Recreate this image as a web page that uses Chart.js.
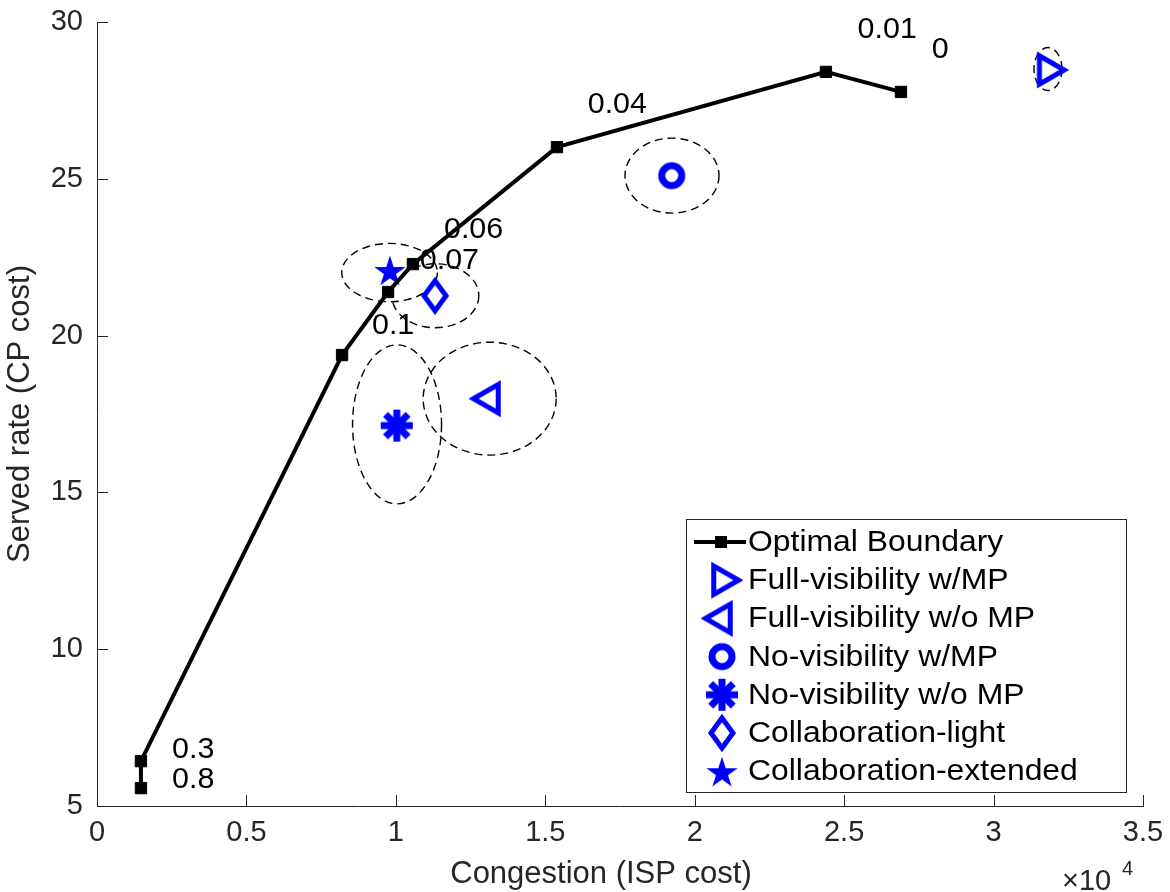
<!DOCTYPE html>
<html>
<head>
<meta charset="utf-8">
<script src="https://cdn.jsdelivr.net/npm/chart.js@4/dist/chart.umd.min.js"></script>
<style>
  html, body { margin: 0; padding: 0; background: #fff; }
  canvas { display: block; }
</style>
</head>
<body>
<canvas id="myChart" width="1170" height="892"></canvas>
<script>
// optimal boundary (congestion is raw ISP cost, axis shows x1e4)
const boundaryX = [1470, 1470, 8200, 9740, 10570, 15390, 24390, 26900];
const boundaryY = [5.57, 6.43, 19.38, 21.39, 22.28, 26.01, 28.41, 27.77];

// text annotations next to the boundary
const noteText = ['0.8', '0.3', '0.1', '0.07', '0.06', '0.04', '0.01', '0'];
const noteX = [2510, 2510, 9200, 10800, 11610, 16420, 25450, 27930];
const noteY = [5.83, 6.79, 20.31, 22.38, 23.37, 27.35, 29.74, 29.11];

// schemes
const schemeNames = ['Full-visibility w/MP', 'Full-visibility w/o MP', 'No-visibility w/MP',
                     'No-visibility w/o MP', 'Collaboration-light', 'Collaboration-extended'];
const schemeX = [31810, 13150, 19230, 10030, 11310, 9800];
const schemeY = [28.47, 17.99, 25.10, 17.13, 21.27, 22.09];

// spread ellipses around each scheme (centre + half widths)
const ellX = [31820, 13140, 19240, 10040, 11320, 9790];
const ellY = [28.50, 17.99, 25.10, 17.17, 21.27, 22.01];
const ellRX = [468, 2225, 1573, 1489, 1456, 1600];
const ellRY = [0.686, 1.80, 1.196, 2.535, 1.02, 0.93];

const BLUE = '#0000ff';
const AXIS = '#262626';
const FONT = "'Liberation Sans', Arial, Helvetica, sans-serif";

function makeMarker(draw) {
  const c = document.createElement('canvas');
  c.width = 44; c.height = 44;
  const g = c.getContext('2d');
  g.strokeStyle = BLUE; g.fillStyle = BLUE;
  g.lineJoin = 'miter';
  draw(g, 22, 22);
  return c;
}

const markers = [
  makeMarker(function(g, x, y) {      // right triangle
    const r = 16.5;
    g.lineWidth = 5;
    g.beginPath();
    g.moveTo(x + r, y);
    g.lineTo(x - r / 2, y - r * 0.866);
    g.lineTo(x - r / 2, y + r * 0.866);
    g.closePath(); g.stroke();
  }),
  makeMarker(function(g, x, y) {      // left triangle
    const r = 16.5;
    g.lineWidth = 5;
    g.beginPath();
    g.moveTo(x - r, y);
    g.lineTo(x + r / 2, y - r * 0.866);
    g.lineTo(x + r / 2, y + r * 0.866);
    g.closePath(); g.stroke();
  }),
  makeMarker(function(g, x, y) {      // circle
    g.lineWidth = 7;
    g.beginPath(); g.arc(x, y, 10, 0, Math.PI * 2); g.stroke();
  }),
  makeMarker(function(g, x, y) {      // asterisk
    g.lineWidth = 7; g.lineCap = 'butt';
    for (let k = 0; k < 4; k++) {
      const a = k * Math.PI / 4;
      g.beginPath();
      g.moveTo(x - 16 * Math.cos(a), y - 16 * Math.sin(a));
      g.lineTo(x + 16 * Math.cos(a), y + 16 * Math.sin(a));
      g.stroke();
    }
  }),
  makeMarker(function(g, x, y) {      // diamond
    g.lineWidth = 5;
    g.beginPath();
    g.moveTo(x, y - 15); g.lineTo(x + 11, y); g.lineTo(x, y + 15); g.lineTo(x - 11, y);
    g.closePath(); g.stroke();
  }),
  makeMarker(function(g, x, y) {      // pentagram
    const R = 16.5, r = R * 0.382;
    g.beginPath();
    for (let k = 0; k < 10; k++) {
      const rad = (k % 2 ? r : R);
      const a = -Math.PI / 2 + k * Math.PI / 5;
      const px = x + rad * Math.cos(a), py = y + 2 + rad * Math.sin(a);
      if (k === 0) g.moveTo(px, py); else g.lineTo(px, py);
    }
    g.closePath(); g.fill();
  })
];

const datasets = [{
  label: 'Optimal Boundary',
  data: boundaryX.map((x, i) => ({ x: x, y: boundaryY[i] })),
  showLine: true,
  borderColor: '#000',
  borderWidth: 4,
  backgroundColor: '#000',
  pointStyle: 'rect',
  pointRadius: 8,
  pointBorderWidth: 1,
  tension: 0
}];
schemeNames.forEach(function(name, i) {
  datasets.push({
    label: name,
    data: [{ x: schemeX[i], y: schemeY[i] }],
    pointStyle: markers[i],
    pointRadius: 16,
    showLine: false
  });
});

const ellipsePlugin = {
  id: 'ellipses',
  beforeDatasetsDraw(chart) {
    const ctx = chart.ctx, xs = chart.scales.x, ys = chart.scales.y;
    ctx.save();
    ctx.strokeStyle = '#000';
    ctx.lineWidth = 1.4;
    ctx.setLineDash([8, 5]);
    for (let i = 0; i < ellX.length; i++) {
      const cx = xs.getPixelForValue(ellX[i]);
      const cy = ys.getPixelForValue(ellY[i]);
      const rx = Math.abs(xs.getPixelForValue(ellX[i] + ellRX[i]) - cx);
      const ry = Math.abs(ys.getPixelForValue(ellY[i] + ellRY[i]) - cy);
      ctx.beginPath();
      ctx.ellipse(cx, cy, rx, ry, 0, 0, Math.PI * 2);
      ctx.stroke();
    }
    ctx.restore();
  }
};

function stretchText(ctx, text, x, y, sx) {
  ctx.save();
  ctx.translate(x, y);
  ctx.scale(sx, 1);
  ctx.fillText(text, 0, 0);
  ctx.restore();
}

const decorPlugin = {
  id: 'decor',
  afterDraw(chart) {
    const ctx = chart.ctx, xs = chart.scales.x, ys = chart.scales.y;
    const area = chart.chartArea;
    ctx.save();

    // inward ticks
    ctx.strokeStyle = AXIS; ctx.lineWidth = 1;
    xs.ticks.forEach(function(t) {
      const px = Math.round(xs.getPixelForValue(t.value)) + 0.5;
      ctx.beginPath(); ctx.moveTo(px, area.bottom); ctx.lineTo(px, area.bottom - 11); ctx.stroke();
    });
    ys.ticks.forEach(function(t) {
      const py = Math.round(ys.getPixelForValue(t.value)) + 0.5;
      ctx.beginPath(); ctx.moveTo(area.left, py); ctx.lineTo(area.left + 11, py); ctx.stroke();
    });

    // boundary annotations
    ctx.fillStyle = '#000';
    ctx.font = '29px ' + FONT;
    ctx.textAlign = 'left'; ctx.textBaseline = 'middle';
    for (let i = 0; i < noteText.length; i++) {
      stretchText(ctx, noteText[i], xs.getPixelForValue(noteX[i]), ys.getPixelForValue(noteY[i]), 1.05);
    }

    // x axis title (sits a little left of centre in the original)
    ctx.fillStyle = AXIS;
    ctx.textAlign = 'center'; ctx.textBaseline = 'alphabetic';
    ctx.font = '31px ' + FONT;
    ctx.fillText('Congestion (ISP cost)', 601, 883);

    // x10^4 multiplier
    ctx.textAlign = 'left';
    ctx.font = '29px ' + FONT;
    ctx.fillText('\u00d710', 1062, 890);
    ctx.font = '20px ' + FONT;
    ctx.fillText('4', 1122, 875);

    // legend
    const lx = area.right - 457, ly = area.bottom - 287, lw = 440, lh = 273;
    ctx.fillStyle = '#fff';
    ctx.fillRect(lx, ly, lw, lh);
    ctx.strokeStyle = AXIS; ctx.lineWidth = 1;
    ctx.strokeRect(lx + 0.5, ly + 0.5, lw, lh);
    const rowH = 38.2, firstY = ly + 23;
    // boundary entry
    ctx.strokeStyle = '#000'; ctx.lineWidth = 4;
    ctx.beginPath(); ctx.moveTo(lx + 8, firstY); ctx.lineTo(lx + 60, firstY); ctx.stroke();
    ctx.fillStyle = '#000';
    ctx.fillRect(lx + 29, firstY - 6, 12, 12);
    ctx.font = '29px ' + FONT;
    ctx.textBaseline = 'middle';
    stretchText(ctx, datasets[0].label, lx + 62, firstY + 1, 1.1);
    for (let i = 0; i < markers.length; i++) {
      const yy = firstY + rowH * (i + 1);
      ctx.drawImage(markers[i], lx + 36 - 22, yy - 22);
      stretchText(ctx, schemeNames[i], lx + 62, yy + 1, 1.1);
    }
    ctx.restore();
  }
};

const ctx = document.getElementById('myChart');
new Chart(ctx, {
  type: 'scatter',
  data: { datasets: datasets },
  options: {
    responsive: false,
    animation: false,
    layout: { padding: { top: 22, right: 27, left: 0, bottom: 0 } },
    plugins: { legend: { display: false }, tooltip: { enabled: false } },
    scales: {
      x: {
        type: 'linear', min: 0, max: 35000,
        afterFit: function(s) { s.height = 86; s.paddingLeft = 0; s.paddingRight = 0; },
        ticks: {
          stepSize: 5000,
          callback: function(v) { return String(v / 10000); },
          font: { size: 29, family: FONT }, color: AXIS, padding: 10
        },
        grid: { drawOnChartArea: false, drawTicks: false },
        border: { color: AXIS, width: 1 },
        title: { display: false }
      },
      y: {
        type: 'linear', min: 5, max: 30,
        afterFit: function(s) { s.width = 97; s.paddingTop = 0; s.paddingBottom = 0; },
        ticks: {
          stepSize: 5,
          font: { size: 29, family: FONT }, color: AXIS, padding: 14
        },
        grid: { drawOnChartArea: false, drawTicks: false },
        border: { color: AXIS, width: 1 },
        title: {
          display: true, text: 'Served rate (CP cost)', color: AXIS,
          font: { size: 31, family: FONT }, padding: { top: 2, bottom: 0 }
        }
      }
    }
  },
  plugins: [ellipsePlugin, decorPlugin]
});
</script>
</body>
</html>
